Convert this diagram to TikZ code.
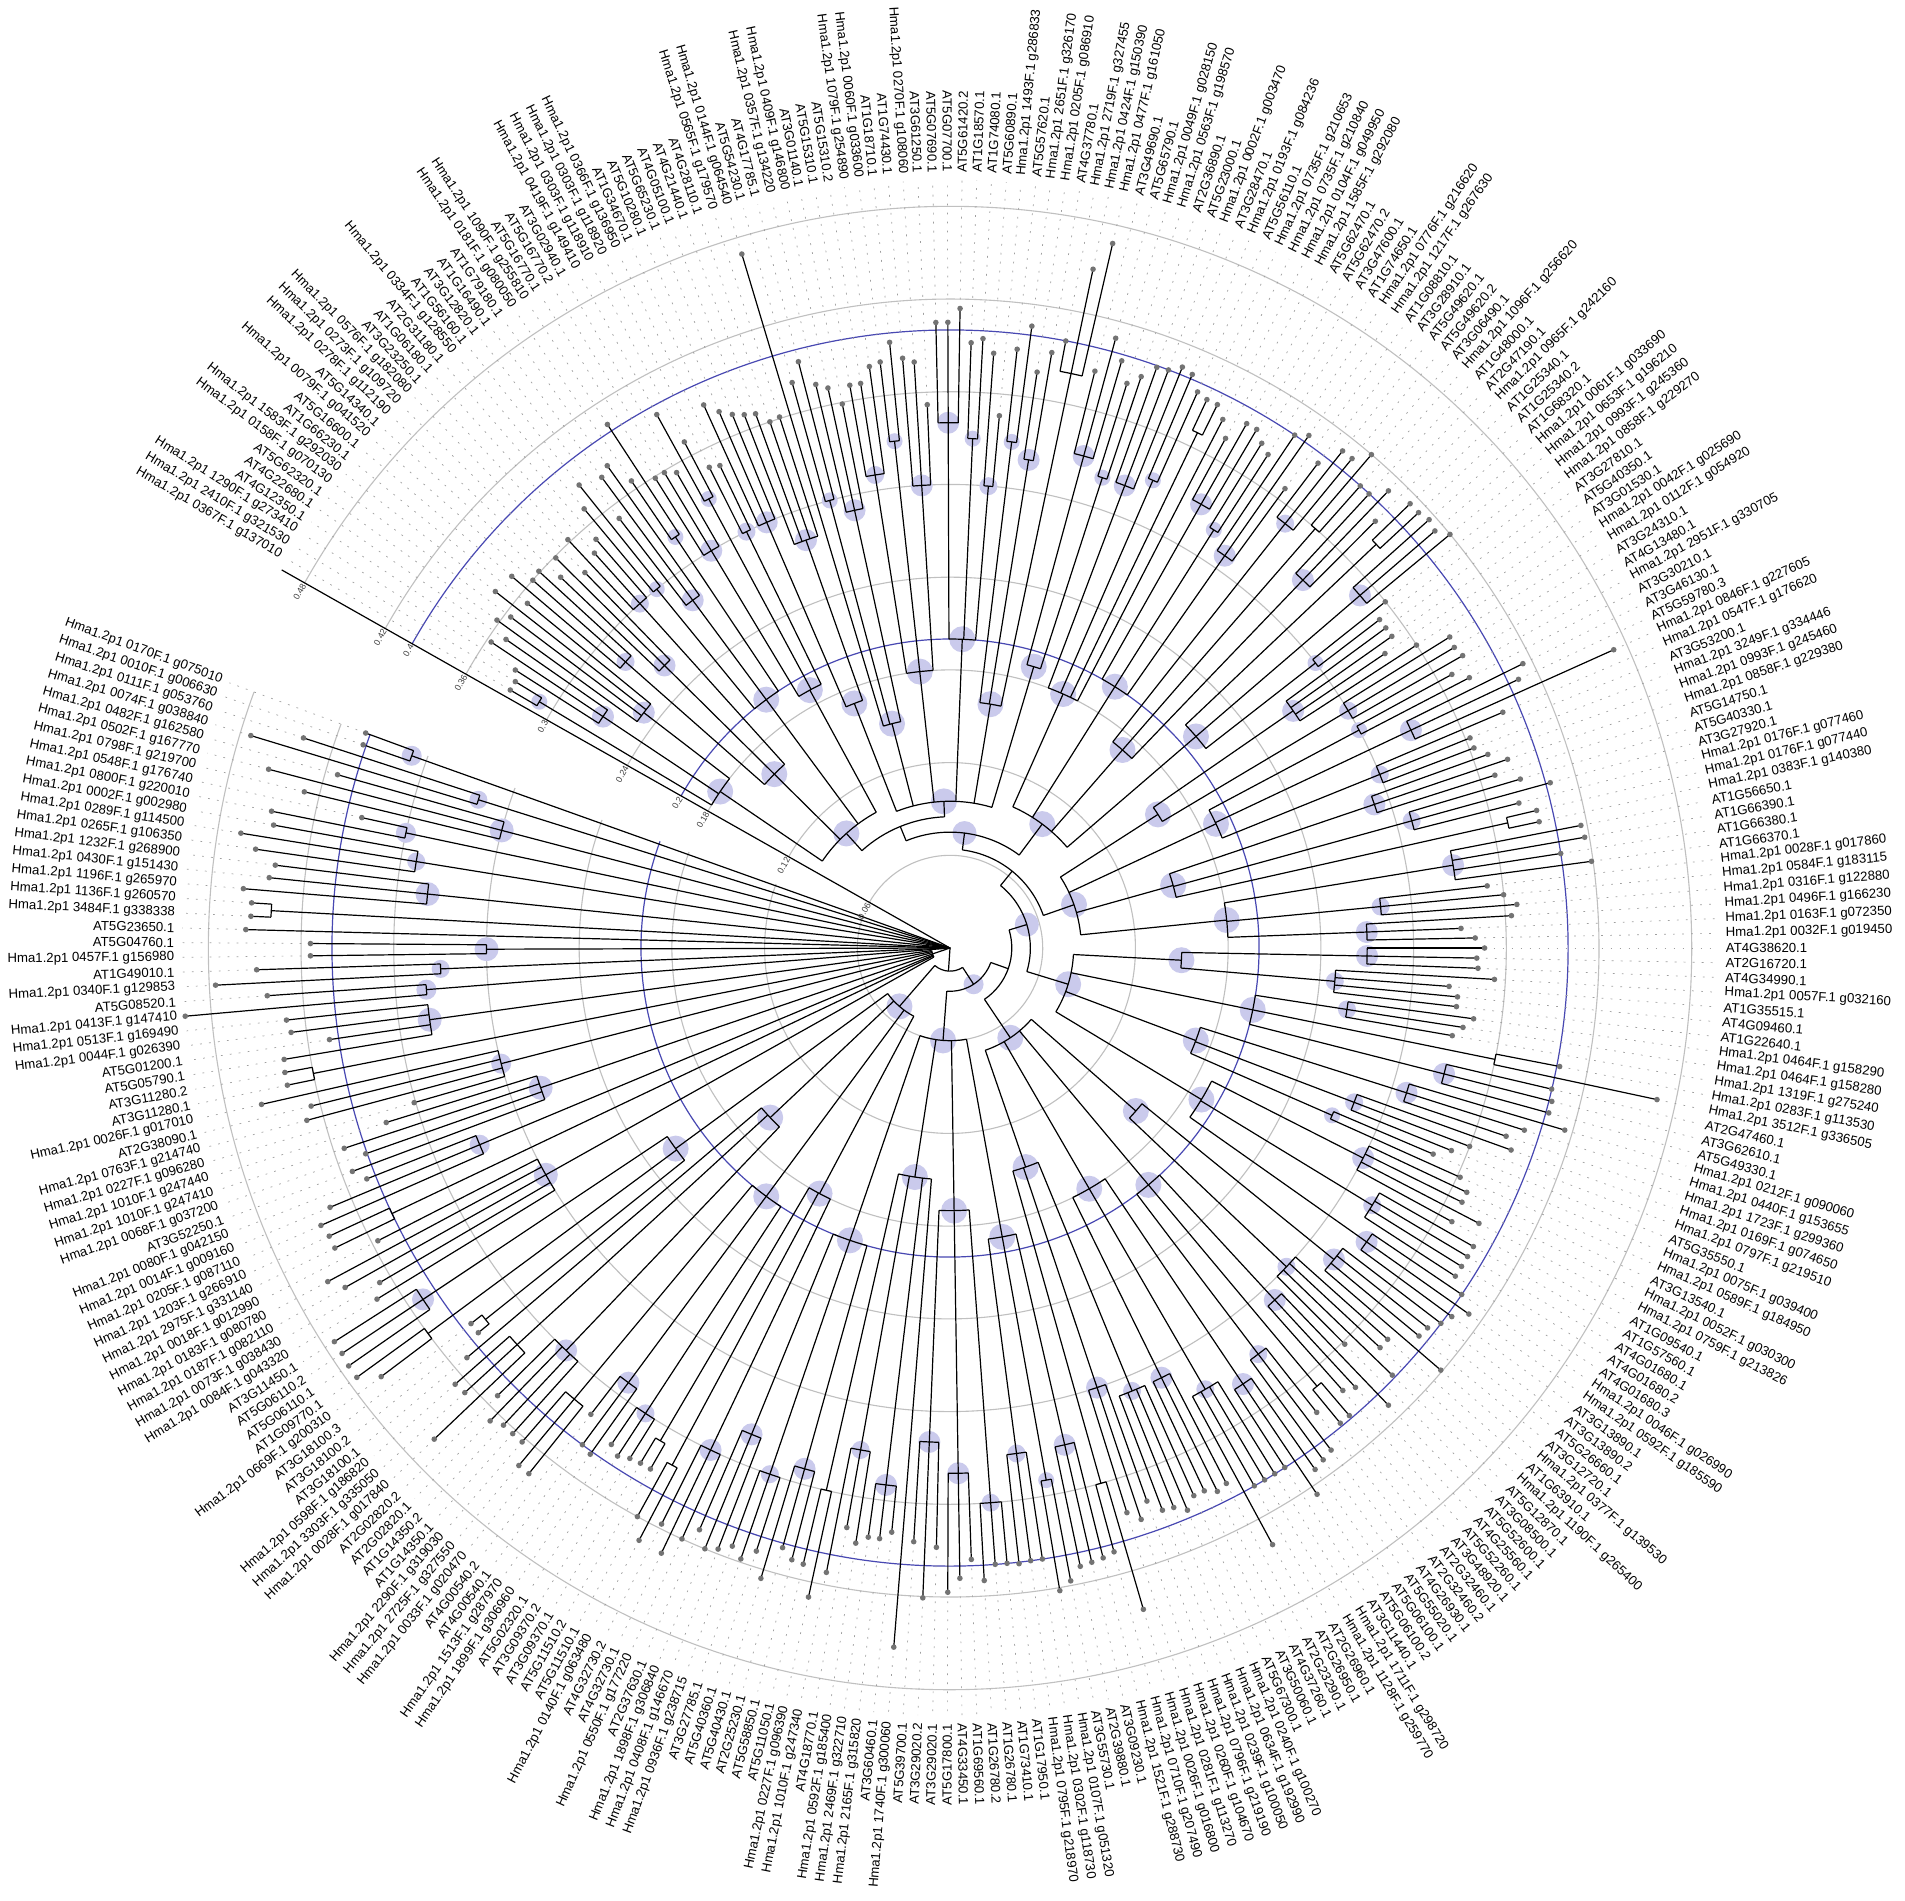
\documentclass[tikz,border=0pt]{standalone}
\usepackage{fontspec}
\setmainfont{Liberation Sans}
\definecolor{bubc}{RGB}{202,202,236}
\definecolor{bluec}{RGB}{72,72,178}
\definecolor{ringc}{RGB}{192,192,192}
\tikzset{
 br/.style={line width=0.6pt, black},
 leadline/.style={line width=0.35pt, gray!75, dash pattern=on 0.9pt off 3.6pt},
 ring/.style={line width=0.55pt, ringc},
 bluering/.style={line width=0.6pt, bluec},
 lab/.style={font=\fontsize{6.6}{7}\selectfont, inner sep=0pt, text=black},
 tick/.style={font=\fontsize{4.4}{5}\selectfont, inner sep=0.6pt, text=black!75},
}
\newif\ifpassone
\newcommand\inode[5]{%
 \pgfmathsetmacro\aA{149.6-1.1*(#1-1)}%
 \pgfmathsetmacro\aB{149.6-1.1*(#2-1)}%
 \pgfmathsetmacro\aM{(\aA+\aB)/2}%
 \ifpassone
  \ifnum#5>0 \fill[bubc] (\aM:#3) circle (#5*0.5pt);\fi
 \else
  \draw[br] (\aA:#3) arc[start angle=\aA, end angle=\aB, radius=#3*772.5pt];%
  \draw[br] (\aM:#4) -- (\aM:#3);%
 \fi
}
\newcommand\leafat[2]{%
 \pgfmathsetmacro\aL{149.6-1.1*(#1-1)}%
 \edef\tp{\csname tp#1\endcsname}%
 \ifpassone
  \draw[leadline] (\aL:\tp) -- (\aL:0.497);%
 \else
  \draw[br] (\aL:#2) -- (\aL:\tp);%
  \fill[black!55] (\aL:\tp) circle (1.4pt);%
 \fi
}
\newcommand\tclu[5]{%
 \ifnum#1=#2\relax
   \leafat{#1}{#4}%
 \else
   \inode{#1}{#2}{#3}{#4}{#5}%
   \foreach \j in {#1,...,#2}{\leafat{\j}{#3}}%
 \fi}
\newcommand\treebody{%
% backbone
\inode{16.875}{53}{0.085}{0.075}{0}
\inode{34.9375}{88.5}{0.075}{0.064}{12}
\inode{61.71875}{119.5}{0.064}{0.052}{0}
\inode{90.609}{152.5}{0.052}{0.04}{12}
\inode{121.55}{188}{0.04}{0.028}{0}
\inode{154.78}{222.75}{0.028}{0.015}{10}
\inode{188.76}{256}{0.015}{0}{0}
% group nodes
\inode{4.5}{29.25}{0.10}{0.085}{13}
\inode{35.75}{70.25}{0.095}{0.085}{13}
\inode{77}{100}{0.10}{0.075}{13}
\inode{107.25}{131.75}{0.085}{0.064}{13}
\inode{139.75}{165.25}{0.08}{0.052}{13}
\inode{174.5}{201.5}{0.07}{0.04}{13}
\inode{209.5}{236}{0.06}{0.028}{13}
\inode{244.25}{267.75}{0.05}{0.015}{13}
% G1
\inode{1.5}{7.5}{0.18}{0.10}{13}
\tclu{1}{2}{0.31}{0.18}{8}
\tclu{3}{5}{0.27}{0.18}{11}
\tclu{6}{9}{0.25}{0.18}{11}
\inode{11}{17}{0.16}{0.10}{13}
\tclu{10}{12}{0.28}{0.16}{9}
\tclu{13}{15}{0.26}{0.16}{11}
\tclu{16}{18}{0.30}{0.16}{9}
\inode{19.5}{24.5}{0.20}{0.10}{13}
\tclu{19}{20}{0.30}{0.20}{8}
\tclu{21}{23}{0.28}{0.20}{11}
\tclu{24}{25}{0.32}{0.20}{8}
\inode{27}{31.5}{0.19}{0.10}{13}
\tclu{26}{28}{0.30}{0.19}{11}
\tclu{29}{30}{0.33}{0.19}{8}
\tclu{31}{32}{0.30}{0.19}{9}
% G2
\inode{34}{37.5}{0.17}{0.095}{13}
\tclu{33}{35}{0.30}{0.17}{11}
\tclu{36}{39}{0.28}{0.17}{11}
\inode{40}{44}{0.15}{0.095}{13}
\leafat{40}{0.15}
\tclu{41}{42}{0.30}{0.15}{8}
\tclu{43}{45}{0.29}{0.15}{11}
\inode{47}{52}{0.18}{0.095}{13}
\tclu{46}{48}{0.31}{0.18}{9}
\tclu{49}{50}{0.33}{0.18}{8}
\tclu{51}{53}{0.30}{0.18}{11}
\inode{55}{59.5}{0.20}{0.095}{13}
\tclu{54}{56}{0.34}{0.20}{11}
\tclu{57}{58}{0.33}{0.20}{8}
\tclu{59}{60}{0.30}{0.20}{9}
\inode{61.5}{66}{0.16}{0.095}{13}
\tclu{61}{62}{0.33}{0.16}{8}
\tclu{63}{64}{0.32}{0.16}{11}
\tclu{65}{67}{0.38}{0.16}{0}
\inode{69}{71.5}{0.19}{0.095}{13}
\tclu{68}{70}{0.33}{0.19}{11}
\tclu{71}{72}{0.32}{0.19}{8}
% G3
\inode{74}{80}{0.18}{0.10}{13}
\tclu{73}{75}{0.32}{0.18}{11}
\tclu{76}{77}{0.33}{0.18}{8}
\tclu{78}{79}{0.37}{0.18}{0}
\leafat{80}{0.18}
\inode{82}{87}{0.20}{0.10}{13}
\tclu{81}{83}{0.33}{0.20}{11}
\tclu{84}{85}{0.32}{0.20}{8}
\tclu{86}{88}{0.31}{0.20}{11}
\inode{90}{95}{0.17}{0.10}{13}
\tclu{89}{91}{0.35}{0.17}{9}
\tclu{92}{93}{0.36}{0.17}{0}
\tclu{94}{96}{0.33}{0.17}{11}
\inode{97.5}{102.5}{0.21}{0.10}{13}
\tclu{97}{98}{0.38}{0.21}{0}
\tclu{99}{101}{0.35}{0.21}{11}
\tclu{102}{103}{0.30}{0.21}{8}
% G4
\inode{105.5}{109}{0.16}{0.085}{13}
\tclu{104}{107}{0.27}{0.16}{11}
\tclu{108}{110}{0.30}{0.16}{9}
\inode{111.5}{117}{0.19}{0.085}{13}
\tclu{111}{112}{0.30}{0.19}{8}
\tclu{113}{115}{0.33}{0.19}{11}
\tclu{116}{118}{0.30}{0.19}{9}
\inode{120}{125.5}{0.15}{0.085}{13}
\tclu{119}{121}{0.29}{0.15}{11}
\tclu{122}{124}{0.31}{0.15}{9}
\tclu{125}{126}{0.37}{0.15}{0}
\inode{128.5}{135}{0.18}{0.085}{13}
\tclu{127}{130}{0.33}{0.18}{11}
\tclu{131}{133}{0.28}{0.18}{9}
\tclu{134}{136}{0.27}{0.18}{11}
% G5
\inode{138}{141.5}{0.15}{0.08}{13}
\tclu{137}{139}{0.27}{0.15}{11}
\tclu{140}{143}{0.25}{0.15}{9}
\inode{145}{150}{0.20}{0.08}{13}
\tclu{144}{146}{0.26}{0.20}{9}
\tclu{147}{148}{0.36}{0.20}{0}
\tclu{149}{151}{0.33}{0.20}{11}
\inode{153}{158.5}{0.17}{0.08}{13}
\tclu{152}{154}{0.31}{0.17}{11}
\tclu{155}{157}{0.28}{0.17}{9}
\tclu{158}{159}{0.27}{0.17}{8}
\inode{161.5}{169}{0.19}{0.08}{13}
\tclu{160}{163}{0.30}{0.19}{11}
\tclu{164}{167}{0.32}{0.19}{9}
\tclu{168}{170}{0.33}{0.19}{11}
% G6
\inode{172.5}{176.5}{0.16}{0.07}{13}
\tclu{171}{174}{0.32}{0.16}{11}
\tclu{175}{178}{0.30}{0.16}{9}
\inode{180}{185}{0.20}{0.07}{13}
\tclu{179}{181}{0.31}{0.20}{11}
\tclu{182}{183}{0.37}{0.20}{0}
\tclu{184}{186}{0.33}{0.20}{9}
\inode{188}{195}{0.18}{0.07}{13}
\tclu{187}{189}{0.34}{0.18}{11}
\tclu{190}{193}{0.33}{0.18}{9}
\tclu{194}{196}{0.31}{0.18}{11}
\inode{198.5}{204.5}{0.15}{0.07}{13}
\tclu{197}{200}{0.31}{0.15}{9}
\tclu{201}{203}{0.30}{0.15}{11}
\tclu{204}{205}{0.36}{0.15}{0}
% G7
\inode{207}{212}{0.19}{0.06}{13}
\tclu{206}{208}{0.33}{0.19}{11}
\tclu{209}{210}{0.35}{0.19}{8}
\tclu{211}{213}{0.33}{0.19}{9}
\inode{215}{221}{0.17}{0.06}{13}
\tclu{214}{216}{0.36}{0.17}{9}
\tclu{217}{219}{0.34}{0.17}{11}
\tclu{220}{222}{0.32}{0.17}{11}
\inode{223}{230.5}{0.15}{0.06}{13}
\leafat{223}{0.15}
\tclu{224}{226}{0.35}{0.15}{11}
\tclu{227}{229}{0.33}{0.15}{9}
\tclu{230}{231}{0.36}{0.15}{0}
\inode{233}{239}{0.20}{0.06}{13}
\tclu{232}{234}{0.35}{0.20}{11}
\tclu{235}{237}{0.36}{0.20}{9}
\tclu{238}{240}{0.34}{0.20}{11}
% G8
\inode{242}{246.5}{0.18}{0.05}{13}
\tclu{241}{243}{0.36}{0.18}{11}
\tclu{244}{245}{0.38}{0.18}{0}
\tclu{246}{247}{0.37}{0.18}{0}
\inode{249}{255}{0.20}{0.05}{13}
\tclu{248}{250}{0.36}{0.20}{9}
\tclu{251}{253}{0.35}{0.20}{11}
\tclu{254}{256}{0.38}{0.20}{0}
\inode{258.5}{264}{0.16}{0.05}{13}
\tclu{257}{260}{0.36}{0.16}{11}
\tclu{261}{263}{0.38}{0.16}{0}
\leafat{264}{0.16}
\inode{265.5}{270}{0.22}{0.05}{13}
\tclu{265}{266}{0.385}{0.22}{0}
\tclu{267}{268}{0.42}{0.22}{0}
\tclu{269}{271}{0.41}{0.22}{11}
% left lower wedge
\inode{274}{293.5}{0.012}{0}{0}
\tclu{272}{276}{0.30}{0.012}{12}
\tclu{277}{278}{0.40}{0.012}{0}
\tclu{279}{281}{0.33}{0.012}{10}
\tclu{282}{285}{0.28}{0.012}{12}
\tclu{286}{289}{0.30}{0.012}{10}
\tclu{290}{291}{0.42}{0.012}{0}
\tclu{292}{295}{0.34}{0.012}{12}
% left upper wedge
\tclu{296}{297}{0.34}{0}{10}
\tclu{298}{299}{0.33}{0}{9}
\tclu{300}{301}{0.30}{0}{12}
\leafat{302}{0}
\tclu{303}{304}{0.44}{0}{0}
\tclu{305}{307}{0.34}{0}{12}
\tclu{308}{310}{0.35}{0}{9}
\tclu{311}{312}{0.36}{0}{10}
\tclu{313}{315}{0.30}{0}{12}
\tclu{316}{317}{0.32}{0}{9}
\tclu{318}{319}{0.37}{0}{10}
}
\begin{document}
\begin{tikzpicture}[x=772.5pt,y=772.5pt]
\fill[white] (-0.6149,-0.6162) rectangle (0.6181,0.6136);
\useasboundingbox (-0.6149,-0.6162) rectangle (0.6181,0.6136);
% tip radii
\foreach \tv [count=\i] in {
.33,.33,.334,.357,.35,.362,.356,.374,.353,.372,
.36,.361,.348,.359,.339,.362,.344,.35,.37,.384,
.351,.379,.383,.366,.405,.359,.359,.355,.394,.37,
.348,.346,.386,.378,.373,.37,.368,.36,.361,.469,
.38,.392,.375,.371,.359,.37,.37,.38,.382,.394,
.383,.38,.352,.405,.405,.414,.392,.395,.386,.346,
.39,.406,.377,.391,.40,.449,.468,.385,.409,.396,
.383,.39,.399,.40,.405,.403,.394,.392,.392,.385,
.375,.39,.39,.384,.38,.40,.405,.368,.394,.41,
.41,.42,.40,.40,.41,.39,.414,.414,.416,.414,
.42,.36,.35,.35,.35,.34,.36,.381,.38,.382,
.37,.379,.414,.407,.471,.389,.363,.363,.37,.381,
.37,.385,.403,.38,.39,.39,.416,.417,.40,.419,
.35,.36,.368,.364,.331,.34,.346,.341,.342,.353,
.324,.33,.33,.342,.336,.33,.402,.468,.40,.402,
.402,.415,.39,.38,.386,.36,.35,.34,.362,.37,
.37,.386,.37,.39,.39,.39,.39,.40,.411,.403,
.40,.395,.394,.419,.38,.38,.398,.362,.41,.387,
.383,.398,.398,.383,.408,.41,.412,.426,.40,.40,
.40,.40,.439,.39,.392,.388,.388,.395,.39,.389,
.38,.39,.383,.446,.405,.407,.408,.409,.417,.422,
.40,.40,.401,.40,.40,.41,.396,.408,.417,.388,
.421,.385,.454,.38,.385,.385,.39,.381,.412,.43,
.41,.409,.403,.426,.41,.418,.412,.417,.42,.41,
.42,.434,.417,.433,.42,.389,.389,.39,.393,.389,
.402,.40,.381,.436,.436,.423,.423,.423,.427,.412,
.461,.426,.427,.41,.394,.394,.461,.474,.474,.473,
.473,.435,.428,.449,.457,.416,.443,.443,.445,.435,
.406,.413,.401,.413,.382,.361,.431,.426,.457,.438,
.438,.437,.406,.43,.432,.497,.443,.476,.449,.414,
.414,.456,.453,.453,.459,.443,.44,.454,.465,.445,
.448,.39,.43,.456,.412,.473,.44,.402,.403}{\expandafter\xdef\csname tp\i\endcsname{\tv}}
% rings
\foreach \r in {0.06,0.12,0.18,0.24,0.30,0.36,0.42,0.48}{
 \draw[ring] (150.5:\r) arc[start angle=150.5, end angle=-200.2, radius=\r*772.5pt];}
\foreach \r in {0.2,0.4}{
 \draw[bluering] (150.5:\r) arc[start angle=150.5, end angle=-200.2, radius=\r*772.5pt];}
% pass one: leaders and bubbles; pass two: branches
\passonetrue
\treebody
\passonefalse
\treebody
% axis
\coordinate (ctr) at (0,0);
\coordinate (axend) at (150.5:0.497);
\draw[br] (ctr) -- (axend);
\foreach \v in {0.06,0.12,0.18,0.2,0.24,0.3,0.36,0.4,0.42,0.48}{
 \node[tick,anchor=east,rotate=60.5] (t\v) at (150.5:\v) {\v};}
% labels
\foreach \nm [count=\i] in {
Hma1.2p1 0367F.1 g137010,
Hma1.2p1 2410F.1 g321530,
Hma1.2p1 1290F.1 g273410,
AT4G12350.1,
AT4G22680.1,
AT5G62320.1,
Hma1.2p1 0158F.1 g070130,
Hma1.2p1 1583F.1 g292030,
AT1G66230.1,
AT5G16600.1,
Hma1.2p1 0079F.1 g041520,
AT5G14340.1,
Hma1.2p1 0278F.1 g112190,
Hma1.2p1 0273F.1 g109720,
Hma1.2p1 0576F.1 g182080,
AT3G23250.1,
AT1G06180.1,
AT2G31180.1,
Hma1.2p1 0334F.1 g128550,
AT1G56160.1,
AT3G12820.1,
AT1G16490.1,
AT1G79180.1,
Hma1.2p1 0181F.1 g080050,
Hma1.2p1 1090F.1 g255810,
AT5G16770.1,
AT5G16770.2,
AT3G02940.1,
Hma1.2p1 0419F.1 g149410,
Hma1.2p1 0303F.1 g118910,
Hma1.2p1 0303F.1 g118920,
Hma1.2p1 0366F.1 g136950,
AT1G34670.1,
AT5G10280.1,
AT5G65230.1,
AT4G05100.1,
AT4G21440.1,
AT4G28110.1,
Hma1.2p1 0565F.1 g179570,
Hma1.2p1 0144F.1 g064540,
AT5G54230.1,
AT4G17785.1,
Hma1.2p1 0357F.1 g134220,
Hma1.2p1 0409F.1 g146800,
AT3G01140.1,
AT5G15310.1,
AT5G15310.2,
Hma1.2p1 1079F.1 g254890,
Hma1.2p1 0060F.1 g033600,
AT1G18710.1,
AT1G74430.1,
Hma1.2p1 0270F.1 g108060,
AT3G61250.1,
AT5G07690.1,
AT5G07700.1,
AT5G61420.2,
AT1G18570.1,
AT1G74080.1,
AT5G60890.1,
Hma1.2p1 1493F.1 g286833,
AT5G57620.1,
Hma1.2p1 2651F.1 g326170,
Hma1.2p1 0205F.1 g086910,
AT4G37780.1,
Hma1.2p1 2719F.1 g327455,
Hma1.2p1 0424F.1 g150390,
Hma1.2p1 0477F.1 g161050,
AT3G49690.1,
AT5G65790.1,
Hma1.2p1 0049F.1 g028150,
Hma1.2p1 0563F.1 g198570,
AT2G36890.1,
AT5G23000.1,
Hma1.2p1 0002F.1 g003470,
AT3G28470.1,
Hma1.2p1 0193F.1 g084236,
AT5G56110.1,
Hma1.2p1 0735F.1 g210653,
Hma1.2p1 0735F.1 g210840,
Hma1.2p1 0104F.1 g049950,
Hma1.2p1 1585F.1 g292080,
AT5G62470.1,
AT5G62470.2,
AT3G47600.1,
AT1G74650.1,
Hma1.2p1 0776F.1 g216620,
Hma1.2p1 1217F.1 g267630,
AT1G08810.1,
AT3G28910.1,
AT5G49620.1,
AT5G49620.2,
AT3G06490.1,
Hma1.2p1 1096F.1 g256620,
AT1G48000.1,
AT2G47190.1,
Hma1.2p1 0965F.1 g242160,
AT1G25340.1,
AT1G25340.2,
AT1G68320.1,
Hma1.2p1 0061F.1 g033690,
Hma1.2p1 0653F.1 g196210,
Hma1.2p1 0993F.1 g245360,
Hma1.2p1 0858F.1 g229270,
AT3G27810.1,
AT5G40350.1,
AT3G01530.1,
Hma1.2p1 0042F.1 g025690,
Hma1.2p1 0112F.1 g054920,
AT3G24310.1,
AT4G13480.1,
Hma1.2p1 2951F.1 g330705,
AT3G30210.1,
AT3G46130.1,
AT5G59780.3,
Hma1.2p1 0846F.1 g227605,
Hma1.2p1 0547F.1 g176620,
AT3G53200.1,
Hma1.2p1 3249F.1 g334446,
Hma1.2p1 0993F.1 g245460,
Hma1.2p1 0858F.1 g229380,
AT5G14750.1,
AT5G40330.1,
AT3G27920.1,
Hma1.2p1 0176F.1 g077460,
Hma1.2p1 0176F.1 g077440,
Hma1.2p1 0383F.1 g140380,
AT1G56650.1,
AT1G66390.1,
AT1G66380.1,
AT1G66370.1,
Hma1.2p1 0028F.1 g017860,
Hma1.2p1 0584F.1 g183115,
Hma1.2p1 0316F.1 g122880,
Hma1.2p1 0496F.1 g166230,
Hma1.2p1 0163F.1 g072350,
Hma1.2p1 0032F.1 g019450,
AT4G38620.1,
AT2G16720.1,
AT4G34990.1,
Hma1.2p1 0057F.1 g032160,
AT1G35515.1,
AT4G09460.1,
AT1G22640.1,
Hma1.2p1 0464F.1 g158290,
Hma1.2p1 0464F.1 g158280,
Hma1.2p1 1319F.1 g275240,
Hma1.2p1 0283F.1 g113530,
Hma1.2p1 3512F.1 g336505,
AT2G47460.1,
AT3G62610.1,
AT5G49330.1,
Hma1.2p1 0212F.1 g090060,
Hma1.2p1 0440F.1 g153655,
Hma1.2p1 1723F.1 g299360,
Hma1.2p1 0169F.1 g074650,
Hma1.2p1 0797F.1 g219510,
AT5G35550.1,
Hma1.2p1 0075F.1 g039400,
Hma1.2p1 0589F.1 g184950,
AT3G13540.1,
Hma1.2p1 0052F.1 g030300,
Hma1.2p1 0759F.1 g213826,
AT1G09540.1,
AT1G57560.1,
AT4G01680.1,
AT4G01680.2,
AT4G01680.3,
Hma1.2p1 0046F.1 g026990,
Hma1.2p1 0592F.1 g185590,
AT3G13890.1,
AT3G13890.2,
AT5G26660.1,
AT3G12720.1,
Hma1.2p1 0377F.1 g139530,
AT1G63910.1,
Hma1.2p1 1190F.1 g265400,
AT5G12870.1,
AT3G08500.1,
AT5G52600.1,
AT4G25560.1,
AT5G52260.1,
AT3G48920.1,
AT2G32460.1,
AT2G32460.2,
AT4G26930.1,
AT5G55020.1,
AT5G06100.1,
AT5G06100.2,
AT3G11440.1,
Hma1.2p1 1711F.1 g298720,
Hma1.2p1 1128F.1 g259770,
AT2G26960.1,
AT2G26950.1,
AT2G23290.1,
AT4G37260.1,
AT3G50060.1,
AT5G67300.1,
Hma1.2p1 0240F.1 g100270,
Hma1.2p1 0634F.1 g192990,
Hma1.2p1 0239F.1 g100050,
Hma1.2p1 0796F.1 g219190,
Hma1.2p1 0260F.1 g104670,
Hma1.2p1 0281F.1 g113270,
Hma1.2p1 0026F.1 g016800,
Hma1.2p1 0710F.1 g207490,
Hma1.2p1 1521F.1 g288730,
AT3G09230.1,
AT2G39880.1,
AT3G55730.1,
Hma1.2p1 0107F.1 g051320,
Hma1.2p1 0302F.1 g118730,
Hma1.2p1 0795F.1 g218970,
AT1G17950.1,
AT1G73410.1,
AT1G26780.1,
AT1G26780.2,
AT1G69560.1,
AT4G33450.1,
AT5G17800.1,
AT3G29020.1,
AT3G29020.2,
AT5G39700.1,
Hma1.2p1 1740F.1 g300060,
AT3G60460.1,
Hma1.2p1 2165F.1 g315820,
Hma1.2p1 2469F.1 g322710,
Hma1.2p1 0592F.1 g185400,
AT4G18770.1,
Hma1.2p1 1010F.1 g247340,
Hma1.2p1 0227F.1 g096390,
AT5G11050.1,
AT5G58850.1,
AT2G25230.1,
AT5G40430.1,
AT5G40360.1,
AT3G27785.1,
Hma1.2p1 0936F.1 g238715,
Hma1.2p1 0408F.1 g146670,
Hma1.2p1 1898F.1 g306840,
AT2G37630.1,
Hma1.2p1 0550F.1 g177220,
AT4G32730.1,
AT4G32730.2,
Hma1.2p1 0140F.1 g063480,
AT5G11510.1,
AT5G11510.2,
AT3G09370.1,
AT3G09370.2,
AT5G02320.1,
Hma1.2p1 1899F.1 g306960,
Hma1.2p1 1513F.1 g287970,
AT4G00540.1,
AT4G00540.2,
Hma1.2p1 0033F.1 g020470,
Hma1.2p1 2725F.1 g327550,
Hma1.2p1 2290F.1 g319030,
AT1G14350.1,
AT1G14350.2,
AT2G02820.1,
AT2G02820.2,
Hma1.2p1 0028F.1 g017840,
Hma1.2p1 3303F.1 g335050,
Hma1.2p1 0598F.1 g186820,
AT3G18100.1,
AT3G18100.2,
AT3G18100.3,
Hma1.2p1 0669F.1 g200310,
AT1G09770.1,
AT5G06110.1,
AT5G06110.2,
AT3G11450.1,
Hma1.2p1 0084F.1 g043320,
Hma1.2p1 0073F.1 g038430,
Hma1.2p1 0187F.1 g082110,
Hma1.2p1 0183F.1 g080780,
Hma1.2p1 0018F.1 g012990,
Hma1.2p1 2975F.1 g331140,
Hma1.2p1 1203F.1 g266910,
Hma1.2p1 0205F.1 g087110,
Hma1.2p1 0014F.1 g009160,
Hma1.2p1 0080F.1 g042150,
AT3G52250.1,
Hma1.2p1 0068F.1 g037200,
Hma1.2p1 1010F.1 g247410,
Hma1.2p1 1010F.1 g247440,
Hma1.2p1 0227F.1 g096280,
Hma1.2p1 0763F.1 g214740,
AT2G38090.1,
Hma1.2p1 0026F.1 g017010,
AT3G11280.1,
AT3G11280.2,
AT5G05790.1,
AT5G01200.1,
Hma1.2p1 0044F.1 g026390,
Hma1.2p1 0513F.1 g169490,
Hma1.2p1 0413F.1 g147410,
AT5G08520.1,
Hma1.2p1 0340F.1 g129853,
AT1G49010.1,
Hma1.2p1 0457F.1 g156980,
AT5G04760.1,
AT5G23650.1,
Hma1.2p1 3484F.1 g338338,
Hma1.2p1 1136F.1 g260570,
Hma1.2p1 1196F.1 g265970,
Hma1.2p1 0430F.1 g151430,
Hma1.2p1 1232F.1 g268900,
Hma1.2p1 0265F.1 g106350,
Hma1.2p1 0289F.1 g114500,
Hma1.2p1 0002F.1 g002980,
Hma1.2p1 0800F.1 g220010,
Hma1.2p1 0548F.1 g176740,
Hma1.2p1 0798F.1 g219700,
Hma1.2p1 0502F.1 g167770,
Hma1.2p1 0482F.1 g162580,
Hma1.2p1 0074F.1 g038840,
Hma1.2p1 0111F.1 g053760,
Hma1.2p1 0010F.1 g006630,
Hma1.2p1 0170F.1 g075010}{%
 \pgfmathsetmacro\th{149.6-1.1*(\i-1)}%
 \pgfmathtruncatemacro\sd{(\th>90 || \th<-90) ? 1 : 0}%
 \ifnum\sd=1
  \node[lab,anchor=east,rotate=\th+180] (l\i) at (\th:0.502) {\nm};
 \else
  \node[lab,anchor=west,rotate=\th] (l\i) at (\th:0.502) {\nm};
 \fi}
\end{tikzpicture}
\end{document}
